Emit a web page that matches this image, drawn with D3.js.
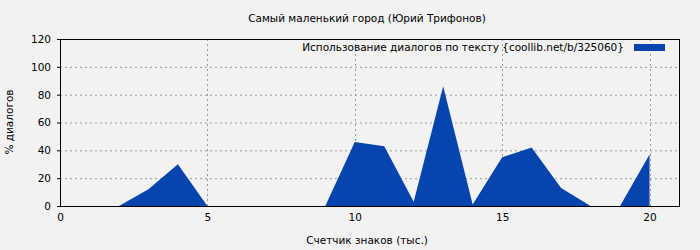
<!DOCTYPE html>
<html>
<head>
<meta charset="utf-8">
<script src="https://cdn.jsdelivr.net/npm/d3@7"></script>
<style>
  body { margin: 0; background: #f2f2f2; }
  text { font-family: "DejaVu Sans", sans-serif; font-size: 10.5px; fill: #000; }
</style>
</head>
<body>
<div id="chart"></div>
<script>
var xValues = [0, 1, 2, 3, 4, 5, 6, 7, 8, 9, 10, 11, 12, 13, 14, 15, 16, 17, 18, 19, 20];
var yValues = [0, 0, 0, 12, 30, 0, 0, 0, 0, 0, 46, 43, 3, 86, 1, 35, 42, 13, 0, 0, 37];
var xTicks = [0, 5, 10, 15, 20];
var yTicks = [0, 20, 40, 60, 80, 100, 120];

var title = "Самый маленький город (Юрий Трифонов)";
var seriesName = "Использование диалогов по тексту {coollib.net/b/325060}";
var xLabel = "Счетчик знаков (тыс.)";
var yLabel = "% диалогов";

var width = 700;
var height = 250;
var margin = { top: 39, right: 21, bottom: 44, left: 60 };
var fillColor = "#0645ad";

var data = xValues.map((x, i) => ({ x: x, y: yValues[i] }));

/* Scale */
var xScale = d3.scaleLinear().domain([0, 21]).range([margin.left, width - margin.right]);
var yScale = d3.scaleLinear().domain([0, 120]).range([height - margin.bottom, margin.top]);

var svg = d3.select("#chart").append("svg")
  .attr("width", width)
  .attr("height", height);

svg.append("rect").attr("width", width).attr("height", height).attr("fill", "#f2f2f2");

/* Grid */
svg.append("g")
  .selectAll("line")
  .data(yTicks.filter(d => d > 0 && d < 120))
  .enter().append("line")
  .attr("x1", margin.left).attr("x2", width - margin.right)
  .attr("y1", d => yScale(d) + 0.5).attr("y2", d => yScale(d) + 0.5)
  .attr("stroke", "#999").attr("stroke-dasharray", "2,3");

svg.append("g")
  .selectAll("line")
  .data(xTicks.filter(d => d > 0))
  .enter().append("line")
  .attr("x1", d => Math.round(xScale(d)) + 0.5).attr("x2", d => Math.round(xScale(d)) + 0.5)
  .attr("y1", yScale(0)).attr("y2", margin.top)
  .attr("stroke", "#999").attr("stroke-dasharray", "2,3");

/* Area */
var area = d3.area()
  .x(d => xScale(d.x))
  .y0(yScale(0))
  .y1(d => yScale(d.y));

svg.append("path")
  .datum(data)
  .attr("d", area)
  .attr("fill", fillColor);

/* Frame */
svg.append("rect")
  .attr("x", margin.left + 0.5).attr("y", margin.top + 0.5)
  .attr("width", width - margin.left - margin.right)
  .attr("height", height - margin.top - margin.bottom)
  .attr("fill", "none").attr("stroke", "#000");

/* Axes */
var xAxis = d3.axisBottom(xScale).tickValues(xTicks).tickSize(0).tickPadding(8);
var yAxis = d3.axisLeft(yScale).tickValues(yTicks).tickSize(3).tickPadding(6);

var gx = svg.append("g")
  .attr("transform", `translate(0, ${height - margin.bottom})`)
  .call(xAxis);
gx.select(".domain").remove();

var gy = svg.append("g")
  .attr("transform", `translate(${margin.left}, 0)`)
  .call(yAxis);
gy.select(".domain").remove();

svg.selectAll(".tick text").style("font-family", "DejaVu Sans, sans-serif").style("font-size", "10.5px");

/* Labels */
svg.append("text")
  .attr("x", 367).attr("y", 22)
  .attr("text-anchor", "middle")
  .text(title);

svg.append("text")
  .attr("x", 367).attr("y", 244)
  .attr("text-anchor", "middle")
  .text(xLabel);

svg.append("text")
  .attr("transform", "translate(13, 122) rotate(-90)")
  .attr("text-anchor", "middle")
  .text(yLabel);

/* Legend */
svg.append("text")
  .attr("x", 624).attr("y", 51)
  .attr("text-anchor", "end")
  .text(seriesName);

svg.append("rect")
  .attr("x", 634).attr("y", 44)
  .attr("width", 31).attr("height", 7)
  .attr("fill", fillColor);
</script>
</body>
</html>
